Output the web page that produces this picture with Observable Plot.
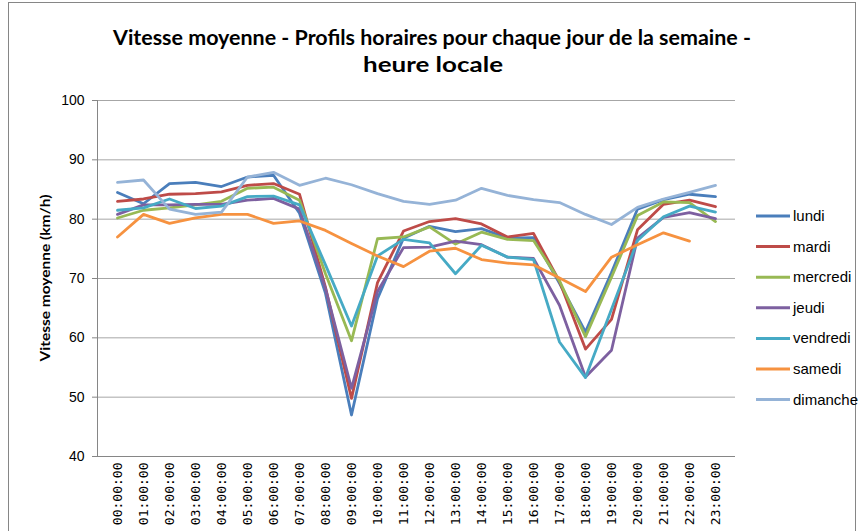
<!DOCTYPE html>
<html><head><meta charset="utf-8">
<script src="https://cdn.jsdelivr.net/npm/d3@7"></script>
<script src="https://cdn.jsdelivr.net/npm/@observablehq/plot@0.6"></script>
<style>
body{margin:0;background:#fff;}
#wrap{position:relative;width:866px;height:531px;overflow:hidden;background:#fff;}
#wrap svg{position:absolute;left:0;top:0;}
</style></head><body><div id="wrap"></div>
<script>
const hours = ["00:00:00","01:00:00","02:00:00","03:00:00","04:00:00","05:00:00","06:00:00","07:00:00","08:00:00","09:00:00","10:00:00","11:00:00","12:00:00","13:00:00","14:00:00","15:00:00","16:00:00","17:00:00","18:00:00","19:00:00","20:00:00","21:00:00","22:00:00","23:00:00"];
const days = ["lundi","mardi","mercredi","jeudi","vendredi","samedi","dimanche"];
const colors = ["#4A7EBB","#BE4B48","#98B954","#7D60A0","#46AAC5","#F69240","#95B3D7"];
const yTicks = [40,50,60,70,80,90,100];

const lundi    = [84.5,82.6,86.0,86.2,85.5,87.1,87.4,81.0,67.5,47.0,66.6,76.8,78.8,77.9,78.4,76.8,76.9,69.2,61.0,71.0,81.7,83.3,84.2,83.8];
const mardi    = [83.0,83.4,84.2,84.3,84.6,85.7,86.0,84.2,68.5,49.8,69.3,78.0,79.6,80.1,79.2,77.0,77.6,69.5,58.1,63.1,78.2,82.5,83.2,82.1];
const mercredi = [80.2,81.5,81.9,82.4,83.0,85.2,85.4,83.2,70.8,59.5,76.7,77.0,78.7,75.8,77.8,76.6,76.4,69.6,60.2,70.2,80.6,82.9,82.8,79.6];
const jeudi    = [80.8,82.4,82.4,82.5,82.5,83.2,83.5,81.7,68.3,51.5,67.8,75.2,75.3,76.3,75.7,73.6,73.4,65.5,53.4,57.9,76.8,80.3,81.1,80.1];
const vendredi = [81.5,81.9,83.4,81.8,82.2,83.8,83.9,82.4,72.3,62.0,73.8,76.6,76.0,70.8,75.6,73.6,73.2,59.3,53.3,64.8,76.4,80.4,82.2,81.2];
const samedi   = [77.0,80.8,79.3,80.2,80.8,80.8,79.3,79.7,78.1,75.9,73.8,72.0,74.6,75.1,73.2,72.6,72.3,70.1,67.8,73.6,75.7,77.7,76.3,null];
const dimanche = [86.2,86.6,81.7,80.8,81.2,87.1,87.9,85.7,86.9,85.8,84.3,83.0,82.5,83.2,85.2,84.0,83.3,82.8,80.8,79.1,82.0,83.4,84.5,85.7];

const series = [lundi,mardi,mercredi,jeudi,vendredi,samedi,dimanche];
const data = days.flatMap((d,i)=>hours.map((h,j)=>({day:d,hour:h,v:series[i][j]})));

const chart = Plot.plot({
  width:866, height:531,
  marginTop:100, marginBottom:75, marginLeft:97, marginRight:131,
  style:{background:"transparent", fontFamily:"Liberation Sans, Arial, sans-serif", fontSize:"14px", color:"#000"},
  x:{type:"point", domain:hours, padding:0.5, label:null},
  y:{domain:[40,100], label:null},
  color:{domain:days, range:colors},
  marks:[
    Plot.ruleY(yTicks.slice(1), {stroke:"#A6A6A6", strokeWidth:1}),
    Plot.ruleY([40], {stroke:"#868686", strokeWidth:1}),
    Plot.frame({anchor:"left", stroke:"#868686"}),
    Plot.axisY({ticks:yTicks, tickSize:5, tickPadding:8, stroke:"#868686", fontSize:14, label:null}),
    Plot.axisX({tickRotate:-90, tickSize:0, tickPadding:6, fontFamily:"DejaVu Sans Mono, monospace", fontSize:13, label:null}),
    Plot.line(data, {x:"hour", y:"v", z:"day", stroke:"day", strokeWidth:2.8, strokeLinejoin:"round"})
  ]
});
const wrap = document.getElementById("wrap");
wrap.appendChild(chart);

const ov = d3.select(wrap).append("svg").attr("width",866).attr("height",531)
  .style("font-family","Lato, 'Open Sans', sans-serif");
ov.append("rect").attr("x",8.5).attr("y",2.5).attr("width",847).attr("height",560)
  .attr("fill","none").attr("stroke","#868686");
ov.append("text").attr("x",432).attr("y",45).attr("text-anchor","middle")
  .attr("font-weight","bold").attr("font-size",20)
  .attr("textLength",638).attr("lengthAdjust","spacingAndGlyphs")
  .text("Vitesse moyenne - Profils horaires pour chaque jour de la semaine -");
ov.append("text").attr("x",433).attr("y",72).attr("text-anchor","middle")
  .attr("font-weight","bold").attr("font-size",20)
  .attr("textLength",140).attr("lengthAdjust","spacingAndGlyphs")
  .text("heure locale");
ov.append("text").attr("transform","translate(50,278) rotate(-90)").attr("text-anchor","middle")
  .attr("font-weight","bold").attr("font-size",13)
  .attr("textLength",167).attr("lengthAdjust","spacingAndGlyphs")
  .text("Vitesse moyenne (km/h)");
const lg = ov.append("g").style("font-family","'Liberation Sans', Arial, sans-serif");
days.forEach((d,i)=>{
  const y = 216 + 30.6*i;
  lg.append("line").attr("x1",756).attr("x2",790).attr("y1",y).attr("y2",y)
    .attr("stroke",colors[i]).attr("stroke-width",3);
  lg.append("text").attr("x",793).attr("y",y+5).attr("font-size",15).text(d);
});
</script></body></html>
